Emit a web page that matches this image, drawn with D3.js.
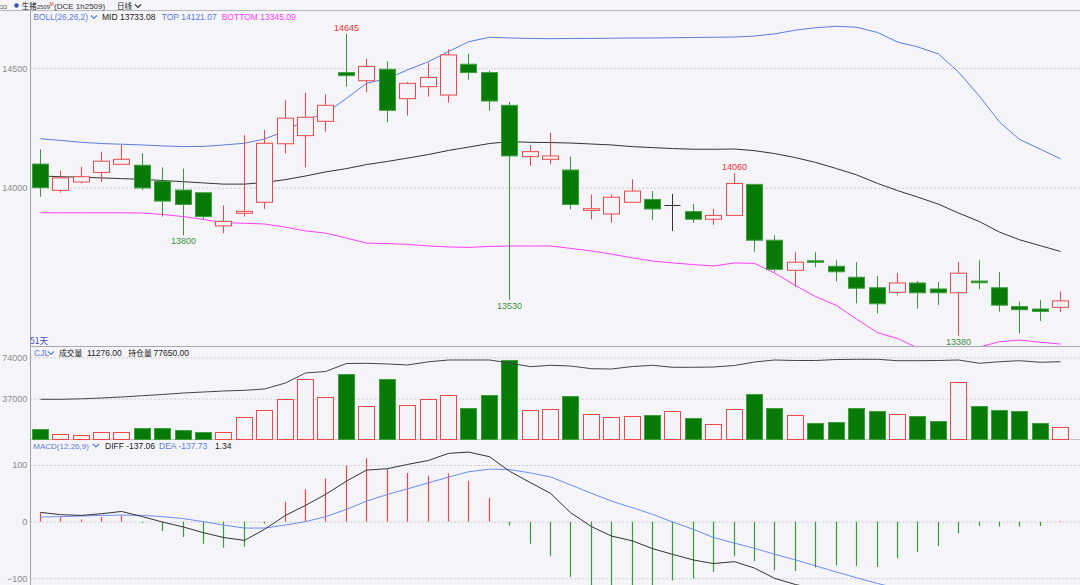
<!DOCTYPE html>
<html><head><meta charset="utf-8">
<script src="https://cdn.jsdelivr.net/npm/d3@7/dist/d3.min.js"></script>
<style>
html,body{margin:0;padding:0;background:#f5f5f9;overflow:hidden;}
svg{display:block;font-family:"Liberation Sans",Arial,sans-serif;}
</style></head><body>
<svg id="c" width="1080" height="585"></svg>
<script>
// ---------------- data (51 daily bars) ----------------
const dayIndex = d3.range(51);
const open  = [14099,13989,14024,14064,14098,14094,14027,13990,13979,13840,13893,13939,14184,14218,14278,14482,14448,14496,14373,14423,14388,14517,14482,14345,14130,14119,14074,13905,13890,13939,13951,13926,13900,13868,13884,14014,13780,13654,13694,13671,13625,13581,13562,13601,13576,13560,13609,13581,13502,13492,13499];
const high  = [14161,14071,14087,14151,14179,14144,14085,14080,13979,13926,14221,14242,14366,14397,14391,14645,14540,14529,14443,14523,14580,14561,14490,14359,14178,14230,14130,13972,13972,14035,13986,13974,13932,13912,14060,14014,13801,13730,13730,13696,13688,13630,13643,13609,13605,13689,13696,13647,13523,13530,13565];
const low   = [13962,13979,14018,14024,14098,13990,13879,13800,13868,13809,13879,13911,14144,14085,14235,14423,14400,14274,14302,14381,14356,14452,14322,13530,14092,14098,13910,13868,13853,13939,13865,13819,13853,13844,13884,13732,13648,13585,13667,13608,13516,13474,13549,13493,13509,13380,13575,13481,13390,13442,13479];
const close = [14000,14041,14046,14111,14119,13999,13944,13930,13879,13859,13901,14186,14291,14295,14345,14469,14508,14324,14437,14462,14556,14482,14363,14133,14151,14133,13930,13912,13960,13986,13911,13926,13868,13884,14018,13780,13658,13688,13688,13648,13579,13514,13601,13560,13560,13642,13602,13508,13489,13482,13526];
const bollMid = [14049,14046,14044,14041,14038,14035,14030,14025,14020,14015,14015,14022,14034,14049,14066,14080,14097,14110,14124,14139,14156,14170,14185,14193,14190,14189,14187,14183,14179,14172,14168,14164,14161,14161,14162,14155,14143,14126,14106,14080,14054,14018,13988,13961,13931,13894,13858,13814,13782,13757,13733.08];
const bollTop = [14205,14198,14190,14185,14182,14179,14175,14172,14173,14179,14186,14204,14237,14284,14312,14374,14437,14458,14493,14528,14570,14611,14630,14627,14625,14624,14625,14625,14626,14627,14627,14628,14629,14630,14631,14635,14644,14660,14670,14676,14672,14650,14610,14590,14560,14484,14383,14275,14202,14161,14121.07];
const bollBot = [13895,13895,13895,13895,13895,13894,13888,13879,13867,13854,13851,13848,13835,13819,13810,13789,13768,13766,13763,13756,13752,13750,13754,13756,13756,13756,13746,13735,13722,13706,13693,13685,13678,13672,13685,13683,13643,13590,13544,13507,13450,13393,13369,13329,13300,13304,13333,13355,13362,13353,13345.09];
const volume = [9760,5060,4170,7100,6830,10910,10910,9140,6830,7100,20140,26620,37000,54750,38780,58830,30790,54400,31680,37000,39930,29010,40550,71870,27240,27770,39310,23690,20410,21300,22450,26350,19520,14200,28130,40820,28390,22180,14820,15970,28390,26000,23070,21300,17125,51460,30790,26620,25730,15350,11276];
const openInterest = [40360,40360,40860,41650,42640,43930,45120,46610,47600,48590,49290,50580,56530,66440,67930,75870,76060,75370,74380,77550,79340,79340,79340,76360,72690,74080,73390,70710,70410,72890,74080,72100,72100,72390,73880,77350,79340,78840,78840,79830,80030,80030,78640,78640,78840,79340,76060,77650,78640,77060,77650];
const diff = [16.4,12.3,11,14,18,8.8,-0.7,-9.5,-19.5,-28,-33,-13.6,11,28.7,48,71.6,91,93.5,101,108,120.5,122.8,114.6,89,68.8,50,16,-8.8,-25.4,-34,-47.6,-57.7,-67.7,-74,-70.6,-82,-100,-111,-118.5,-127.5,-138,-149,-150.4,-151.8,-152,-143.3,-137.9,-139.9,-141.2,-141.8,-137.06];
const dea = [8.1,8.8,9.9,11,11.6,11,8.8,5.3,0,-6,-11.3,-11.3,-6,0,8.8,21.7,36.3,48,58,68.6,78.6,88,92.6,92,86,79,65,50,36.3,24.7,12.9,-0.6,-13.6,-28,-38,-47,-57.5,-67.5,-78,-89,-99,-109,-118,-125,-130.5,-133,-134,-135.5,-136.8,-137.9,-137.73];
const macdHist = [16,9,4,8,11,-2,-16.5,-27,-39,-46,-44,-3.5,35,57,76,99,112,93,86,81,85,72,42,-7,-39,-61,-97.5,-118,-123,-117,-118,-104,-100.5,-89,-61,-69.5,-86,-87,-81,-77,-78,-80,-64.7,-53.6,-43,-20.6,-7.7,-8.8,-8.8,-7.7,1.34];
const priceTicks = [14000,14500];
const volTicks = [37000,74000];
const macdTicks = [-100,0,100];
const extremes = [{i:15,v:14645,pos:"top"},{i:7,v:13800,pos:"bottom"},{i:23,v:13530,pos:"bottom"},{i:34,v:14060,pos:"top"},{i:45,v:13380,pos:"bottom"}];

// ---------------- layout ----------------
const W = 1080, H = 585, X0 = 30.3;
const RED = "#f04848", GREEN = "#087a08", GREENW = "#3a963a", DOJI = "#333";
const BLUE = "#5a7be0", MAG = "#ff3cff", TXT = "#222", AX = "#8a8a8a";
const svg = d3.select("#c");
svg.append("rect").attr("width", W).attr("height", H).attr("fill", "#f5f5f9");

const x = d3.scaleBand().domain(dayIndex).range([X0, 1071.2]).paddingInner(0.14).paddingOuter(0.07);
const bx = i => Math.round(x(i)) + 0.5;
const bw = 16;
const cx = i => bx(i) + bw / 2;

const P = {top: 11, bottom: 346}, V = {top: 346, bottom: 440}, M = {top: 440, bottom: 585};
const py = d3.scaleLinear().domain([14000, 14500]).range([187.7, 68.3]);
const vy = d3.scaleLinear().domain([0, 74000]).range([440, 357.3]);
const oy = d3.scaleLinear().domain([0, 77650]).range([440, 361.7]);
const my = d3.scaleLinear().domain([-100, 100]).range([578.3, 465]);

const defs = svg.append("defs");
[["cp", P], ["cv", V], ["cm", M]].forEach(([id, p]) => {
  defs.append("clipPath").attr("id", id).append("rect")
    .attr("x", X0).attr("y", p.top).attr("width", W - X0).attr("height", p.bottom - p.top);
});

// grid + axes
function axis(scale, ticks, fmt) {
  const g = svg.append("g").attr("transform", `translate(${X0},0)`)
    .call(d3.axisLeft(scale).tickValues(ticks).tickSize(-(W - X0)).tickPadding(3).tickFormat(fmt));
  g.select(".domain").remove();
  g.selectAll(".tick line").attr("stroke", "#c9c9d2").attr("stroke-dasharray", "2,2");
  g.selectAll(".tick text").attr("fill", AX).attr("font-size", "9px").attr("font-family", "Liberation Sans, Arial, sans-serif");
  return g;
}
axis(py, priceTicks, d3.format("d"));
axis(vy, volTicks, d3.format("d"));
axis(my, macdTicks, d3.format("d"));

// frame lines
svg.append("line").attr("x1", 0).attr("x2", W).attr("y1", 10.5).attr("y2", 10.5).attr("stroke", "#b8b8c0");
svg.append("line").attr("x1", X0).attr("x2", W).attr("y1", 346.5).attr("y2", 346.5).attr("stroke", "#a8a8b0");
svg.append("line").attr("x1", X0).attr("x2", W).attr("y1", 439.5).attr("y2", 439.5).attr("stroke", "#c0c0c8");
svg.append("line").attr("x1", 30.5).attr("x2", 30.5).attr("y1", 11).attr("y2", H).attr("stroke", "#a0a0a8");

// ---------------- price panel ----------------
const gp = svg.append("g").attr("clip-path", "url(#cp)");
const lineP = arr => d3.line().x((d, i) => cx(i)).y(d => py(d))(arr);
gp.append("path").attr("d", lineP(bollTop)).attr("fill", "none").attr("stroke", BLUE).attr("stroke-width", 1);
gp.append("path").attr("d", lineP(bollMid)).attr("fill", "none").attr("stroke", "#333").attr("stroke-width", 1);
gp.append("path").attr("d", lineP(bollBot)).attr("fill", "none").attr("stroke", MAG).attr("stroke-width", 1);

dayIndex.forEach(i => {
  const o = open[i], c = close[i], h = high[i], l = low[i];
  const up = c > o, dn = c < o;
  const yTop = py(Math.max(o, c)), yBot = py(Math.min(o, c));
  const xc = cx(i);
  if (up) {
    gp.append("line").attr("x1", xc).attr("x2", xc).attr("y1", py(h)).attr("y2", yTop).attr("stroke", RED);
    gp.append("line").attr("x1", xc).attr("x2", xc).attr("y1", yBot).attr("y2", py(l)).attr("stroke", RED);
    gp.append("rect").attr("x", bx(i)).attr("y", yTop).attr("width", bw).attr("height", Math.max(1, yBot - yTop))
      .attr("fill", "#f5f5f9").attr("stroke", RED).attr("stroke-width", 1);
  } else if (dn) {
    gp.append("line").attr("x1", xc).attr("x2", xc).attr("y1", py(h)).attr("y2", py(l)).attr("stroke", GREENW);
    gp.append("rect").attr("x", bx(i)).attr("y", yTop).attr("width", bw).attr("height", Math.max(1.5, yBot - yTop))
      .attr("fill", GREEN).attr("stroke", "#3f9f3f").attr("stroke-width", 1);
  } else {
    gp.append("line").attr("x1", xc).attr("x2", xc).attr("y1", py(h)).attr("y2", py(l)).attr("stroke", DOJI);
    gp.append("line").attr("x1", bx(i)).attr("x2", bx(i) + bw).attr("y1", Math.round(yTop) + 0.5).attr("y2", Math.round(yTop) + 0.5).attr("stroke", DOJI);
  }
});

extremes.forEach(e => {
  svg.append("text").attr("x", cx(e.i)).attr("y", e.pos === "top" ? py(e.v) - 3 : py(e.v) + 9)
    .attr("text-anchor", "middle").attr("font-size", "9px")
    .attr("fill", e.pos === "top" ? "#e83232" : "#3f8f3f").text(e.v);
});

// ---------------- volume panel ----------------
const gv = svg.append("g").attr("clip-path", "url(#cv)");
dayIndex.forEach(i => {
  const red = close[i] >= open[i];
  const yt = vy(volume[i]);
  gv.append("rect").attr("x", bx(i)).attr("y", Math.round(yt) + 0.5).attr("width", bw).attr("height", 439 - Math.round(yt))
    .attr("fill", red ? "#f5f5f9" : GREEN).attr("stroke", red ? RED : "#3f9f3f");
});
gv.append("path").attr("d", d3.line().x((d, i) => cx(i)).y(d => oy(d))(openInterest))
  .attr("fill", "none").attr("stroke", "#444").attr("stroke-width", 1);

// ---------------- MACD panel ----------------
const gm = svg.append("g").attr("clip-path", "url(#cm)");
dayIndex.forEach(i => {
  const v = macdHist[i];
  gm.append("line").attr("x1", cx(i)).attr("x2", cx(i)).attr("y1", my(0)).attr("y2", my(v))
    .attr("stroke", v >= 0 ? RED : "#3a9a3a").attr("stroke-width", 1.2);
});
const lineM = arr => d3.line().x((d, i) => cx(i)).y(d => my(d))(arr);
gm.append("path").attr("d", lineM(dea)).attr("fill", "none").attr("stroke", "#6a8cf0").attr("stroke-width", 1);
gm.append("path").attr("d", lineM(diff)).attr("fill", "none").attr("stroke", "#333").attr("stroke-width", 1);

// ---------------- header texts ----------------
function t(xp, yp, s, col, size, fam) {
  return svg.append("text").attr("x", xp).attr("y", yp).attr("fill", col).attr("font-size", size || "8.5px")
    .attr("font-family", fam || "Liberation Sans, Arial, sans-serif").text(s);
}
function chev(xp, yp, col) {
  svg.append("path").attr("d", `M${xp},${yp} l3,3 l3,-3`).attr("fill", "none").attr("stroke", col).attr("stroke-width", 1.1);
}
const CJK = "Noto Sans CJK SC, sans-serif";
t(0, 9, "ɔɔ", "#555", "7px");
svg.append("circle").attr("cx", 16.5).attr("cy", 5.5).attr("r", 2.2).attr("fill", "#3355bb");
t(21.7, 9.3, "生猪", TXT, "7.5px", CJK);
t(37, 9.3, "2509", "#333", "5.8px");
t(49.5, 5.8, "M", "#e03030", "5px");
t(54, 9.3, "(DCE 1h2509)", "#333", "8px");
t(117, 9.3, "日线", TXT, "7.5px", CJK);
chev(135, 4.5, "#333");

t(33.5, 20, "BOLL(26,26,2)", BLUE, "8.3px");
chev(91, 15.5, BLUE);
t(102, 20, "MID " + bollMid[50].toFixed(2), TXT);
t(161.7, 20, "TOP " + bollTop[50].toFixed(2), BLUE);
t(221.7, 20, "BOTTOM " + bollBot[50].toFixed(2), MAG);

t(30, 344, "51天", "#3b4bc8", "8.5px", CJK);

t(34, 356, "CJL", BLUE);
chev(48, 351.5, BLUE);
t(59, 356, "成交量", TXT, "7.8px", CJK);
t(87, 356, volume[50].toFixed(2), TXT);
t(128.3, 356, "持仓量", TXT, "7.8px", CJK);
t(153.5, 356, openInterest[50].toFixed(2), TXT);

t(33.3, 448.5, "MACD(12,26,9)", BLUE, "8px");
chev(93, 444, BLUE);
t(105, 448.5, "DIFF " + diff[50].toFixed(2), TXT);
t(159, 448.5, "DEA " + dea[50].toFixed(2), BLUE);
t(215, 448.5, macdHist[50].toFixed(2), TXT);
</script>
</body></html>
